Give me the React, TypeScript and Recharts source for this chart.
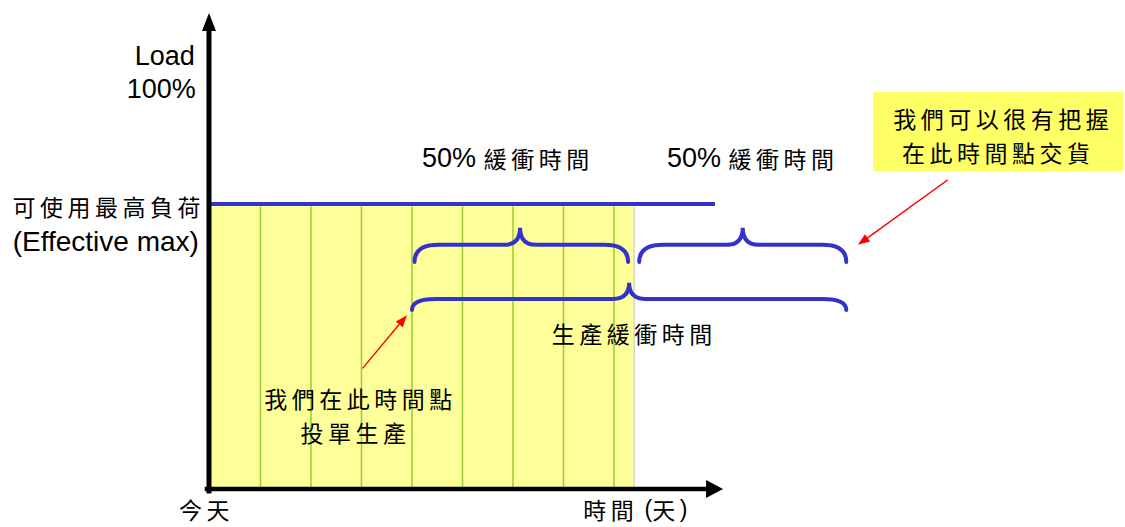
import {
  ComposedChart,
  XAxis,
  YAxis,
  Area,
  Line,
  ReferenceLine,
  ReferenceArea,
  ReferenceDot,
} from 'recharts'

// x = days from today, y = % of load
const bookedLoad = [
  { day: 0, load: 60 },
  { day: 8.4, load: 60 },
]
const effectiveMax = [
  { day: 0, cap: 60 },
  { day: 10, cap: 60 },
]
const dayColumns = [1, 2, 3, 4, 5, 6, 7, 8]
const bookedUntil = 8.4
const capacity = 60

// buffer braces: span in days, tip day, end / flat / tip load level
const bufferBraces = [
  { from: 4.05, to: 8.28, tip: 6.14, low: 47.8, flat: 51.4, high: 55 },
  { from: 8.5, to: 12.6, tip: 10.55, low: 47.8, flat: 51.4, high: 55 },
  { from: 4.0, to: 12.6, tip: 8.3, low: 37.7, flat: 40, high: 43.4 },
]

// red pointers (tail -> head)
const pointers = [
  { from: { x: 3.03, y: 25.5 }, to: { x: 3.9, y: 36.6 } },
  { from: { x: 14.6, y: 65 }, to: { x: 12.83, y: 51.4 } },
]

// callout box for the delivery note
const callout = { x1: 13.13, x2: 18.1, y1: 66.9, y2: 83.6 }

type Note = { x: number; y: number; anchor: 'start' | 'middle' | 'end'; text: string; latin?: number }

const notes: Note[] = [
  { x: -0.3, y: 91.2, anchor: 'end', text: 'Load' },
  { x: -0.28, y: 84.2, anchor: 'end', text: '100%' },
  { x: -0.1, y: 59.6, anchor: 'end', text: '可使用最高負荷' },
  { x: -0.22, y: 52.3, anchor: 'end', text: '(Effective max)', latin: 28 },
  { x: 4.2, y: 69.7, anchor: 'start', text: '50% 緩衝時間' },
  { x: 9.05, y: 69.7, anchor: 'start', text: '50% 緩衝時間' },
  { x: 8.4, y: 32.8, anchor: 'middle', text: '生產緩衝時間' },
  { x: 2.98, y: 19.2, anchor: 'middle', text: '我們在此時間點' },
  { x: 2.88, y: 12.0, anchor: 'middle', text: '投單生產' },
  { x: -0.07, y: -4.2, anchor: 'middle', text: '今天' },
  { x: 7.39, y: -4.2, anchor: 'start', text: '時間 (天)', latin: 23 },
  { x: 15.71, y: 78.2, anchor: 'middle', text: '我們可以很有把握' },
  { x: 15.61, y: 70.9, anchor: 'middle', text: '在此時間點交貨' },
]

const CJK = "'Noto Sans CJK TC', 'Noto Sans CJK SC', sans-serif"
const LATIN = "'Liberation Sans', Arial, sans-serif"
const BLUE = '#3333cc'
const RED = '#ff0000'

const cjkChar = /[\u3000-\u9fff\uff00-\uffef]/
const runs = /[\u3000-\u9fff\uff00-\uffef]+|[^\u3000-\u9fff\uff00-\uffef]+/g

function noteShape(n: Note) {
  return (p: any) => (
    <text
      x={p.cx}
      y={p.cy}
      textAnchor={n.anchor}
      dominantBaseline="central"
      fill="#000"
    >
      {(n.text.match(runs) || []).map((run, i) =>
        cjkChar.test(run) ? (
          <tspan key={i} fontFamily={CJK} fontSize={23} letterSpacing={4.5}>
            {run}
          </tspan>
        ) : (
          <tspan key={i} fontFamily={LATIN} fontSize={n.latin ?? 27}>
            {run}
          </tspan>
        ),
      )}
    </text>
  )
}

function arrowShape(color: string, width: number, head: number, half: number) {
  return (p: any) => {
    const x1 = Number(p.x1)
    const y1 = Number(p.y1)
    const x2 = Number(p.x2)
    const y2 = Number(p.y2)
    const len = Math.hypot(x2 - x1, y2 - y1) || 1
    const ux = (x2 - x1) / len
    const uy = (y2 - y1) / len
    const bx = x2 - ux * head
    const by = y2 - uy * head
    const pts = `${x2},${y2} ${bx - uy * half},${by + ux * half} ${bx + uy * half},${by - ux * half}`
    return (
      <g>
        <line x1={x1} y1={y1} x2={bx + ux} y2={by + uy} stroke={color} strokeWidth={width} strokeLinecap="square" />
        <polygon points={pts} fill={color} />
      </g>
    )
  }
}

function braceShape(b: (typeof bufferBraces)[number]) {
  return (p: any) => {
    const { x, y, width: w, height: h } = p
    const bot = y + h
    const mid = y + (h * (b.high - b.flat)) / (b.high - b.low)
    const tx = x + (w * (b.tip - b.from)) / (b.to - b.from)
    const re = 24
    const rt = 16
    const d =
      `M${x},${bot} Q${x},${mid} ${x + re},${mid} L${tx - rt},${mid} ` +
      `Q${tx},${mid} ${tx},${y} Q${tx},${mid} ${tx + rt},${mid} ` +
      `L${x + w - re},${mid} Q${x + w},${mid} ${x + w},${bot}`
    return <path d={d} fill="none" stroke={BLUE} strokeWidth={4} strokeLinecap="round" />
  }
}

export default function App() {
  return (
    <div style={{ position: 'absolute', left: 0, top: 0, background: '#fff' }}>
      <ComposedChart
        width={1125}
        height={527}
        margin={{ top: 14, right: 1, bottom: 38, left: 210 }}
      >
        <XAxis type="number" dataKey="day" domain={[0, 18.1]} allowDataOverflow hide />
        <YAxis type="number" domain={[0, 100]} allowDataOverflow hide />

        <Area
          data={bookedLoad}
          dataKey="load"
          type="linear"
          stroke="none"
          fill="#ffff99"
          fillOpacity={1}
          isAnimationActive={false}
          zIndex={100}
        />
        {dayColumns.map((d) => (
          <ReferenceLine
            key={d}
            segment={[{ x: d, y: 0 }, { x: d, y: capacity - 0.5 }]}
            stroke="#99cc33"
            strokeWidth={1.5}
            zIndex={150}
          />
        ))}
        <ReferenceLine
          segment={[{ x: bookedUntil, y: 0 }, { x: bookedUntil, y: capacity - 0.5 }]}
          stroke="#d4d4d4"
          strokeWidth={1.5}
          zIndex={150}
        />
        <Line
          data={effectiveMax}
          dataKey="cap"
          type="linear"
          stroke={BLUE}
          strokeWidth={4}
          dot={false}
          activeDot={false}
          isAnimationActive={false}
          zIndex={400}
        />

        {/* axes with arrow heads */}
        <ReferenceLine
          segment={[{ x: -0.02, y: -0.4 }, { x: -0.02, y: 100.2 }]}
          ifOverflow="visible"
          shape={arrowShape('#000', 5, 18, 7)}
          zIndex={450}
        />
        <ReferenceLine
          segment={[{ x: -0.06, y: 0 }, { x: 10.16, y: 0 }]}
          ifOverflow="visible"
          shape={arrowShape('#000', 4.5, 17, 9)}
          zIndex={450}
        />

        {bufferBraces.map((b, i) => (
          <ReferenceArea
            key={i}
            x1={b.from}
            x2={b.to}
            y1={b.low}
            y2={b.high}
            ifOverflow="visible"
            shape={braceShape(b)}
            zIndex={460}
          />
        ))}

        <ReferenceArea
          x1={callout.x1}
          x2={callout.x2}
          y1={callout.y1}
          y2={callout.y2}
          ifOverflow="visible"
          fill="#ffff66"
          fillOpacity={1}
          stroke="none"
          zIndex={470}
        />

        {pointers.map((pt, i) => (
          <ReferenceLine
            key={i}
            segment={[pt.from, pt.to]}
            ifOverflow="visible"
            shape={arrowShape(RED, 1.4, 12, 4.5)}
            zIndex={480}
          />
        ))}

        {notes.map((n, i) => (
          <ReferenceDot
            key={i}
            x={n.x}
            y={n.y}
            r={0}
            ifOverflow="visible"
            shape={noteShape(n)}
            zIndex={600}
          />
        ))}
      </ComposedChart>
    </div>
  )
}
